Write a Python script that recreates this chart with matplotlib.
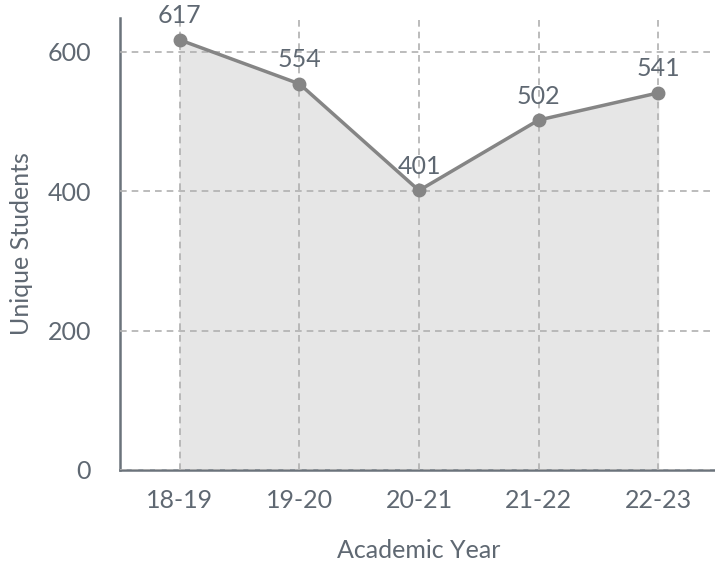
import matplotlib.pyplot as plt

plt.rcParams['font.family'] = ['Lato', 'DejaVu Sans']

years = ["18-19", "19-20", "20-21", "21-22", "22-23"]
students = [617, 554, 401, 502, 541]
yticks = [0, 200, 400, 600]

TEXT = "#5f6872"
LINE = "#858585"

fig = plt.figure(figsize=(7.15, 5.69), dpi=100)
ax = fig.add_axes([0.168, 0.174, 0.836, 0.795])

x = list(range(len(years)))
ax.fill_between(x, students, 0, color="#e6e6e6", zorder=1)
ax.plot(x, students, color=LINE, linewidth=2.5, marker="o", markersize=9, zorder=3)

# value labels above each point
for xi, v in zip(x, students):
    ax.annotate(str(v), (xi, v), xytext=(0, 9), textcoords="offset points",
                ha="center", va="bottom", fontsize=18, color=TEXT, zorder=4)

ax.set_xlim(-0.5, 4.5)
ax.set_ylim(0, 649)
ax.set_xticks(x)
ax.set_xticklabels(years)
ax.set_yticks(yticks)

ax.grid(True, linestyle=(0, (4, 3)), color="#b0b0b0", linewidth=1.2, zorder=2)
ax.set_axisbelow(False)
for line in ax.get_xgridlines() + ax.get_ygridlines():
    line.set_zorder(2)

for side in ["top", "right"]:
    ax.spines[side].set_visible(False)
for side in ["left", "bottom"]:
    ax.spines[side].set_color("#6b737b")
    ax.spines[side].set_linewidth(1.8)

ax.tick_params(length=0, labelsize=18, labelcolor=TEXT, pad=14)
ax.tick_params(axis="y", pad=21)
ax.set_xlabel("Academic Year", fontsize=18, color=TEXT, labelpad=19)
ax.set_ylabel("Unique Students", fontsize=18, color=TEXT, labelpad=10)

fig.savefig("out.png", dpi=100)
